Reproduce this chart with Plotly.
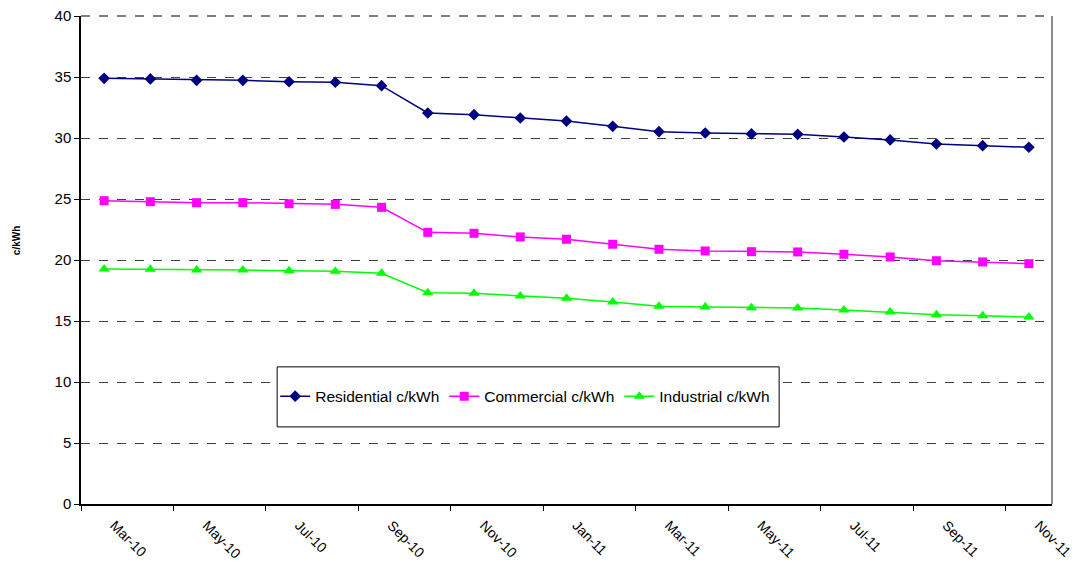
import plotly.graph_objs as go

# months (Mar-10 .. Nov-11)
months = ['Mar-10', 'Apr-10', 'May-10', 'Jun-10', 'Jul-10', 'Aug-10', 'Sep-10',
          'Oct-10', 'Nov-10', 'Dec-10', 'Jan-11', 'Feb-11', 'Mar-11', 'Apr-11',
          'May-11', 'Jun-11', 'Jul-11', 'Aug-11', 'Sep-11', 'Oct-11', 'Nov-11']

residential = [34.89, 34.84, 34.73, 34.73, 34.61, 34.57, 34.29, 32.05, 31.91, 31.64, 31.39,
               30.96, 30.52, 30.41, 30.33, 30.30, 30.08, 29.84, 29.51, 29.37, 29.24]
commercial = [24.86, 24.78, 24.70, 24.70, 24.61, 24.56, 24.32, 22.27, 22.19, 21.89, 21.70,
              21.29, 20.88, 20.74, 20.68, 20.66, 20.47, 20.25, 19.94, 19.84, 19.70]
industrial = [19.26, 19.24, 19.18, 19.18, 19.12, 19.07, 18.91, 17.32, 17.27, 17.05, 16.86,
              16.56, 16.20, 16.15, 16.09, 16.07, 15.90, 15.74, 15.52, 15.43, 15.33]

font = 'Liberation Sans, Arial, sans-serif'

fig = go.Figure()
fig.add_trace(go.Scatter(x=months, y=residential, name='Residential c/kWh', mode='lines+markers',
                         line=dict(color='#000080', width=1.5),
                         marker=dict(symbol='diamond', size=9, color='#000080')))
fig.add_trace(go.Scatter(x=months, y=commercial, name='Commercial c/kWh', mode='lines+markers',
                         line=dict(color='#FF00FF', width=1.5),
                         marker=dict(symbol='square', size=9, color='#FF00FF')))
fig.add_trace(go.Scatter(x=months, y=industrial, name='Industrial c/kWh', mode='lines+markers',
                         line=dict(color='#00FF00', width=1.5),
                         marker=dict(symbol='triangle-up', size=10, color='#00FF00')))

# legend box
fig.add_shape(type='rect', xref='paper', yref='paper', x0=0.202, x1=0.719, y0=0.158, y1=0.281,
              fillcolor='white', line=dict(color='black', width=1), layer='above')
# plot area border: grey right edge, dashed grey top
fig.add_shape(type='line', xref='paper', yref='paper', x0=1, x1=1, y0=0, y1=1,
              line=dict(color='#8c8c8c', width=2))
fig.add_shape(type='line', xref='paper', yref='paper', x0=0, x1=1, y0=1, y1=1,
              line=dict(color='#808080', width=2, dash='dash'))

fig.add_annotation(text='<b>c/kWh</b>', xref='paper', yref='paper', x=-0.074, y=0.54,
                   textangle=-90, showarrow=False, font=dict(size=10, color='black', family=font))

fig.update_layout(
    width=1081, height=567,
    margin=dict(l=81, r=29, t=16, b=63, autoexpand=False),
    paper_bgcolor='white', plot_bgcolor='white',
    font=dict(family=font, color='black'),
    showlegend=True,
    legend=dict(orientation='h', x=0.2, y=0.22, xanchor='left', yanchor='middle',
                bgcolor='rgba(0,0,0,0)', borderwidth=0, font=dict(size=15.5),
                itemwidth=30),
    xaxis=dict(type='category', range=[-0.5, 20.5], dtick=2, tick0=0, tickson='boundaries',
               ticks='outside', ticklen=5, tickcolor='black', tickangle=45,
               ticklabelshift=10, ticklabelstandoff=6,
               showline=True, linecolor='black', linewidth=1.5, showgrid=False,
               tickfont=dict(size=14)),
    yaxis=dict(range=[0, 40], dtick=5, ticks='outside', ticklen=5, tickcolor='black',
               showline=True, linecolor='black', linewidth=1.5,
               showgrid=True, gridcolor='#404040', griddash='dash', gridwidth=1,
               zeroline=False, tickfont=dict(size=15)),
)

# drop the default page margin so the figure sits at the top-left corner
fig.write_html('out.html', config={'displayModeBar': False},
               post_script="document.body.style.margin='0';")
